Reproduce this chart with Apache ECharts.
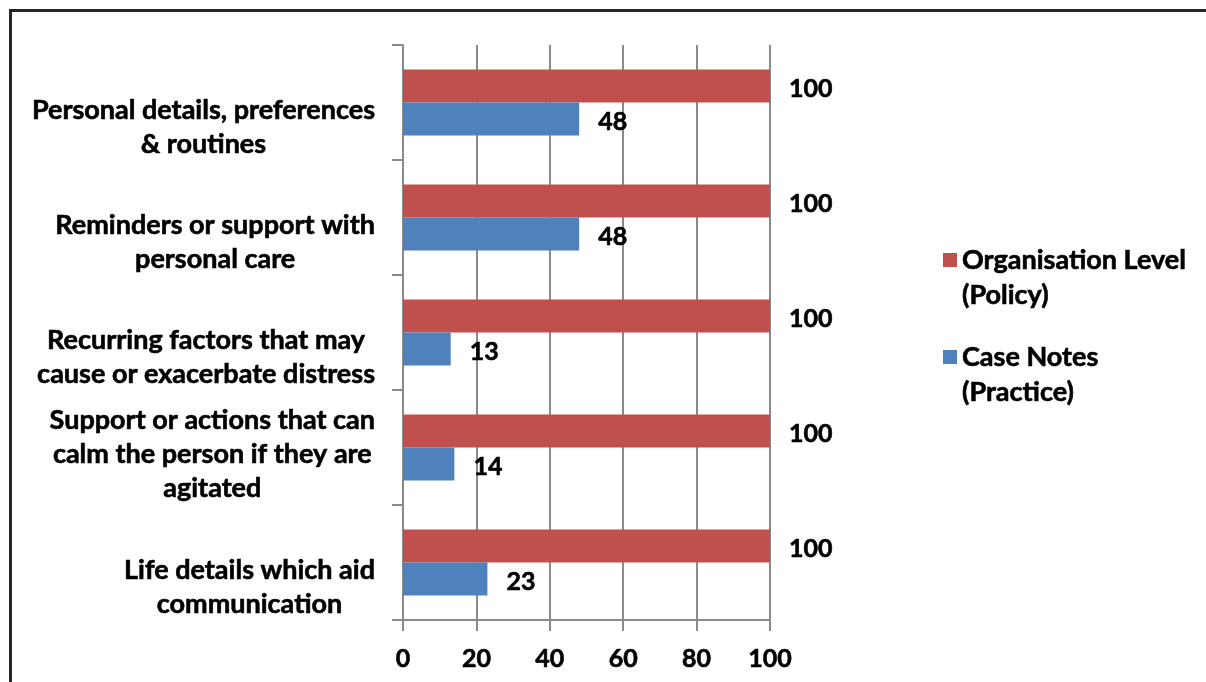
<!DOCTYPE html>
<html>
<head>
<meta charset="utf-8">
<script src="https://cdn.jsdelivr.net/npm/echarts@6/dist/echarts.min.js"></script>
<style>
  html, body { margin: 0; padding: 0; background: #fff; }
  #chart { width: 1206px; height: 682px; }
</style>
</head>
<body>
<div id="chart"></div>
<script>
// Care-plan content areas, top to bottom
const categories = [
  'Personal details, preferences\n& routines',
  'Reminders or support with\npersonal care',
  'Recurring factors that may\ncause or exacerbate distress',
  'Support or actions that can\ncalm the person if they are\nagitated',
  'Life details which aid\ncommunication'
];
const seriesNames = ['Organisation Level (Policy)', 'Case Notes (Practice)'];
const policyValues = [100, 100, 100, 100, 100];
const practiceValues = [48, 48, 13, 14, 23];
const xTicks = { min: 0, max: 100, interval: 20 };

const FONT = 'Lato, "Open Sans", sans-serif';
const WEIGHT = 'bold';
const FS_TEXT = 27;
const FS_NUM = 25;
const RED = '#c0504d';
const BLUE = '#4f81bd';
const AXIS = '#8a8a8a';

// heavy black lettering
const ink = { color: '#000', textBorderColor: '#000', textBorderWidth: 0.6 };

const chart = echarts.init(document.getElementById('chart'));

function legendFormatter(name) {
  const parts = name.replace(' (', '\n(').split('\n');
  return '{sp| }\n' + parts.map(p => '{t|' + p + '}').join('\n');
}
const legendRich = {
  sp: { lineHeight: 35, fontSize: 10 },
  t: Object.assign({ fontFamily: FONT, fontWeight: WEIGHT, fontSize: FS_TEXT, lineHeight: 35 }, ink)
};

const valueLabel = Object.assign({
  show: true,
  position: 'right',
  distance: 19,
  offset: [0, 3],
  fontFamily: FONT,
  fontWeight: WEIGHT,
  fontSize: FS_NUM
}, ink);

chart.setOption({
  animation: false,
  backgroundColor: '#fff',
  graphic: [{
    type: 'rect',
    shape: { x: 10.5, y: 10.5, width: 1400, height: 900 },
    style: { fill: 'none', stroke: '#262626', lineWidth: 3 },
    silent: true
  }],
  grid: { left: 403, right: 436, top: 45, bottom: 62, containLabel: false },
  legend: [
    {
      data: [seriesNames[0]], orient: 'vertical', left: 943, top: 220, padding: 0,
      itemWidth: 14, itemHeight: 14, icon: 'rect', selectedMode: false,
      formatter: legendFormatter, textStyle: { rich: legendRich }
    },
    {
      data: [seriesNames[1]], orient: 'vertical', left: 943, top: 317, padding: 0,
      itemWidth: 14, itemHeight: 14, icon: 'rect', selectedMode: false,
      formatter: legendFormatter, textStyle: { rich: legendRich }
    }
  ],
  xAxis: {
    type: 'value',
    min: xTicks.min, max: xTicks.max, interval: xTicks.interval,
    axisLine: { show: true, lineStyle: { color: AXIS, width: 2 } },
    axisTick: { show: true, length: 11, lineStyle: { color: AXIS, width: 2 } },
    splitLine: { show: true, lineStyle: { color: AXIS, width: 2 } },
    axisLabel: Object.assign({ margin: 26, fontFamily: FONT, fontWeight: WEIGHT, fontSize: FS_NUM }, ink)
  },
  yAxis: {
    type: 'category',
    inverse: true,
    data: categories,
    axisLine: { show: true, lineStyle: { color: AXIS, width: 2 } },
    axisTick: { show: true, length: 11, lineStyle: { color: AXIS, width: 2 } },
    axisLabel: {
      margin: 28,
      align: 'right',
      formatter: function (v) {
        const lines = v.split('\n');
        const sp = lines.length === 2 ? 'sp2' : 'sp3';
        return '{' + sp + '| }\n' + lines.map(l => '{t|' + l + '}').join('\n');
      },
      rich: {
        sp2: { lineHeight: 50, fontSize: 10 },
        sp3: { lineHeight: 14, fontSize: 10 },
        t: Object.assign({ align: 'center', fontFamily: FONT, fontWeight: WEIGHT, fontSize: FS_TEXT, lineHeight: 34 }, ink)
      }
    }
  },
  series: [
    {
      name: seriesNames[0], type: 'bar', data: policyValues,
      barWidth: 33, barGap: '0%',
      itemStyle: { color: RED },
      label: valueLabel
    },
    {
      name: seriesNames[1], type: 'bar', data: practiceValues,
      barWidth: 33, barGap: '0%',
      itemStyle: { color: BLUE },
      label: valueLabel
    }
  ]
});
</script>
</body>
</html>
